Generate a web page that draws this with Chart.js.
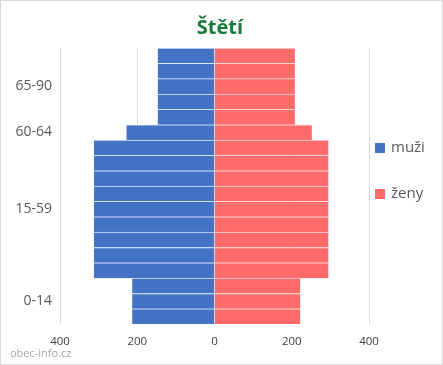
<!DOCTYPE html>
<html><head><meta charset="utf-8">
<script src="https://cdn.jsdelivr.net/npm/chart.js@4"></script>
<style>
html,body{margin:0;padding:0;background:#fff;}
#wrap{width:443px;height:365px;box-sizing:border-box;border:1px solid #d9d9d9;position:relative;}
canvas{display:block;}
</style></head><body>
<div id="wrap"><canvas id="c" width="441" height="363"></canvas></div>
<script>
const title = 'Štětí';
const categories = ['85-89','80-84','75-79','70-74','65-69','60-64','55-59','50-54','45-49','40-44','35-39','30-34','25-29','20-24','15-19','10-14','5-9','0-4'];
const tickLabels = ['','','65-90','','','60-64','','','','','15-59','','','','','','0-14',''];
const muzi = [147,147,147,147,147,228,312,312,312,312,312,312,312,312,312,213,213,213];
const zeny = [208,208,208,208,208,252,295,295,295,295,295,295,295,295,295,222,222,222];
const xTicks = [-400,-200,0,200,400];

const extras = {
  id:'extras',
  afterDraw(chart){
    const ctx = chart.ctx;
    ctx.save();
    // title
    ctx.font = 'bold 20px "Open Sans", sans-serif';
    ctx.fillStyle = '#177a3b';
    ctx.textAlign = 'center';
    ctx.textBaseline = 'middle';
    ctx.fillText(title, 219, 27);
    ctx.textAlign = 'left';
    // watermark
    ctx.font = '11px "Open Sans", sans-serif';
    ctx.fillStyle = '#a6a6a6';
    ctx.fillText('obec-info.cz', 9, 353);
    // legend
    const x0 = chart.chartArea.right + 6;
    const ys = [147, 193];
    ctx.font = '15px "Open Sans", sans-serif';
    chart.data.datasets.forEach((ds, i) => {
      const y = ys[i];
      ctx.fillStyle = ds.backgroundColor;
      ctx.fillRect(x0, y - 5, 10, 10);
      ctx.fillStyle = '#595959';
      ctx.fillText(ds.label, x0 + 16, y);
    });
    ctx.restore();
  }
};

new Chart(document.getElementById('c'), {
  type:'bar',
  data:{
    labels: categories,
    datasets:[
      {label:'muži', data: muzi.map(v=>-v), backgroundColor:'#4472c4', borderColor:'rgba(220,228,245,0.9)', borderWidth:{top:1,bottom:0,left:0,right:0}, borderSkipped:false},
      {label:'ženy', data: zeny, backgroundColor:'#ff6b6b', borderColor:'rgba(255,210,210,0.9)', borderWidth:{top:1,bottom:0,left:0,right:0}, borderSkipped:false}
    ]
  },
  options:{
    indexAxis:'y',
    responsive:false,
    animation:false,
    layout:{padding:{left:0,right:73,top:47,bottom:4}},
    datasets:{bar:{barPercentage:1,categoryPercentage:1}},
    scales:{
      x:{
        stacked:true, min:-400, max:400,
        afterBuildTicks(axis){ axis.ticks = xTicks.map(v=>({value:v})); },
        ticks:{callback:v=>Math.abs(v), color:'#404040', font:{family:'"Open Sans", sans-serif', size:11.5}, padding:11, maxRotation:0},
        grid:{color:'#d9d9d9', drawTicks:false},
        border:{display:false}
      },
      y:{
        stacked:true,
        afterFit(s){ s.width = 59; },
        ticks:{autoSkip:false, callback:(v,i)=>tickLabels[i], color:'#595959', font:{family:'"Open Sans", sans-serif', size:14}, padding:8},
        grid:{display:false, drawTicks:false},
        border:{display:false}
      }
    },
    plugins:{
      title:{display:false},
      legend:{display:false},
      tooltip:{enabled:false}
    }
  },
  plugins:[extras]
});
</script>
</body></html>
